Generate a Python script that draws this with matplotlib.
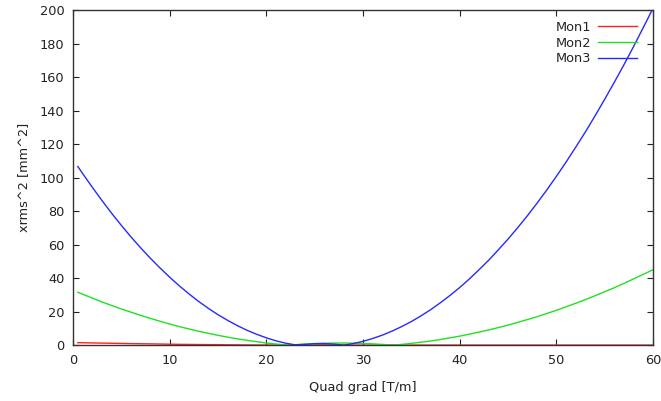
import matplotlib
matplotlib.use("Agg")
import matplotlib.pyplot as plt

# Quadrupole gradient scan [T/m]
grad = [0.5] + list(range(1, 61))

# xrms^2 [mm^2] at each monitor
mon1 = [1.5, 1.45, 1.35, 1.25, 1.15, 1.05, 0.95, 0.87, 0.8, 0.7, 0.6,
        0.52, 0.45, 0.4, 0.35, 0.3, 0.25, 0.2, 0.15, 0.12, 0.1,
        0.08, 0.06, 0.05, 0.1, 0.15, 0.2, 0.15, 0.1, 0.05, 0.05,
        0.05, 0.05, 0.05, 0.05, 0.05, 0.05, 0.05, 0.05, 0.05, 0.05,
        0.05, 0.05, 0.05, 0.05, 0.05, 0.05, 0.05, 0.05, 0.05, 0.05,
        0.05, 0.05, 0.05, 0.05, 0.05, 0.05, 0.05, 0.05, 0.05, 0.05]
mon2 = [31.6, 30.4, 28.1, 25.8, 23.7, 21.6, 19.7, 17.8, 16.0, 14.3, 12.6,
        11.1, 9.7, 8.3, 7.1, 5.9, 4.8, 3.8, 2.9, 2.1, 1.3,
        0.7, 0.15, 0.3, 0.7, 1.0, 1.17, 1.28, 1.3, 1.22, 1.06,
        0.8, 0.48, 0.05, 0.47, 1.1, 1.8, 2.5, 3.4, 4.4, 5.4,
        6.6, 7.8, 9.1, 10.5, 12.0, 13.6, 15.3, 17.0, 18.9, 20.8,
        22.9, 25.0, 27.2, 29.5, 31.9, 34.3, 36.9, 39.6, 42.3, 45.0]
mon3 = [106.6, 102.4, 94.2, 86.3, 78.7, 71.5, 64.6, 58.1, 51.9, 46.1, 40.6,
        35.4, 30.6, 26.1, 22.0, 18.2, 14.8, 11.7, 8.9, 6.5, 4.4,
        2.6, 1.2, 0.2, 0.5, 0.9, 0.95, 0.65, 0.0, 1.0, 2.3,
        4.0, 6.0, 8.4, 11.1, 14.1, 17.5, 21.2, 25.3, 29.7, 34.4,
        39.5, 45.0, 50.7, 56.9, 63.3, 70.1, 77.2, 84.7, 92.5, 100.7,
        109.2, 118.1, 127.2, 136.8, 146.7, 156.9, 167.4, 178.3, 189.6, 201.0]

xticks = [0, 10, 20, 30, 40, 50, 60]
yticks = [0, 20, 40, 60, 80, 100, 120, 140, 160, 180, 200]

plt.rcParams["font.family"] = ["DejaVu Sans"]
plt.rcParams["font.size"] = 9.3

fig = plt.figure(figsize=(6.61, 4.01), dpi=100)
ax = fig.add_axes([73 / 661, 1 - 345.2 / 401, (653 - 73) / 661, (345.2 - 10) / 401])

ax.plot(grad, mon1, color="#ff2020", lw=1.0, label="Mon1")
ax.plot(grad, mon2, color="#20e020", lw=1.0, label="Mon2")
ax.plot(grad, mon3, color="#2828ff", lw=1.0, label="Mon3")

ax.set_xlim(0, 60)
ax.set_ylim(0, 200)
ax.set_xticks(xticks)
ax.set_yticks(yticks)
ax.tick_params(direction="in", length=4.5, width=0.8, top=True, right=True,
               color="#222222", labelcolor="#222222", pad=6)
for s in ax.spines.values():
    s.set_linewidth(1.0)
    s.set_color("#333333")

ax.set_xlabel("Quad grad [T/m]", color="#222222", labelpad=10.5)
ax.set_ylabel("xrms^2 [mm^2]", color="#222222", labelpad=7)

leg = ax.legend(loc="upper right", bbox_to_anchor=(637 / 661, 1 - 21 / 401),
                bbox_transform=fig.transFigure, frameon=False, markerfirst=False,
                handlelength=3.0, handletextpad=0.55, labelspacing=0.2,
                borderpad=0, borderaxespad=0)
for t in leg.get_texts():
    t.set_color("#222222")

fig.savefig("out.png", dpi=100)
